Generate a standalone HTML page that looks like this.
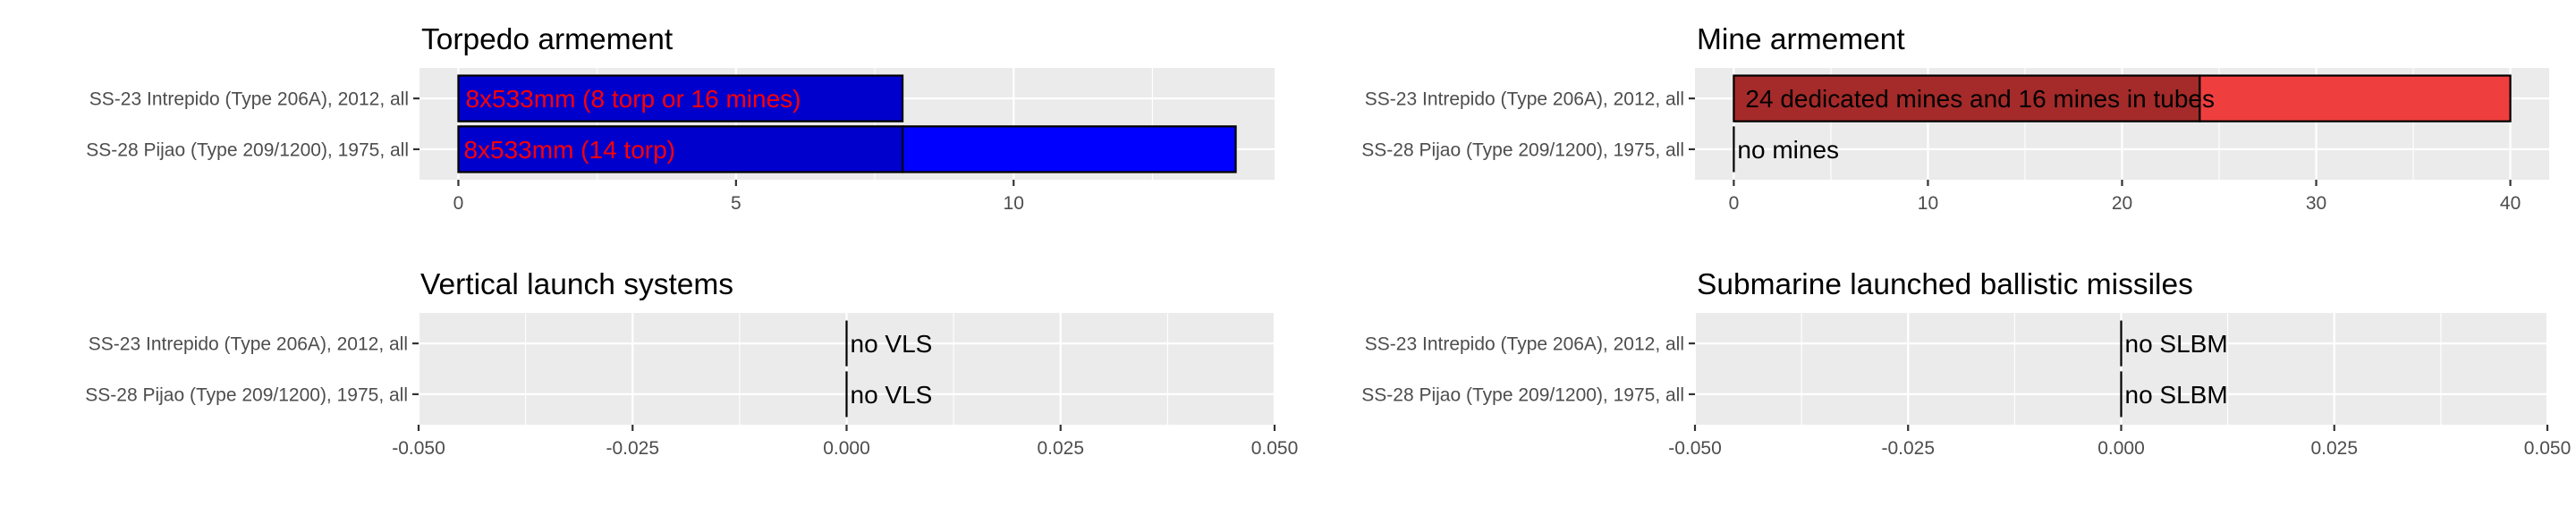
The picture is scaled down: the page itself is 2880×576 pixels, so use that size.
<!DOCTYPE html>
<html><head><meta charset="utf-8">
<style>
html,body{margin:0;padding:0;background:#fff;}
svg{display:block;font-family:"Liberation Sans",Arial,sans-serif;}
</style></head>
<body>
<svg id="chart" width="2880" height="576" viewBox="0 0 2880 576" xmlns="http://www.w3.org/2000/svg"></svg>
<script>
// ---- data ----
const categories = ["SS-23 Intrepido (Type 206A), 2012, all", "SS-28 Pijao (Type 209/1200), 1975, all"];
const torpDedicated = [8, 8];
const torpExtra = [0, 6];
const torpLabels = ["8x533mm (8 torp or 16 mines)", "8x533mm (14 torp)"];
const mineDedicated = [24, 0];
const mineTubes = [16, 0];
const mineLabels = ["24 dedicated mines and 16 mines in tubes", "no mines"];
const vlsValues = [0, 0];
const vlsLabels = ["no VLS", "no VLS"];
const slbmValues = [0, 0];
const slbmLabels = ["no SLBM", "no SLBM"];
const torpTicks = [0, 5, 10];
const mineTicks = [0, 10, 20, 30, 40];
const zeroTicks = [-0.05, -0.025, 0, 0.025, 0.05];
const zeroTickLabels = ["-0.050", "-0.025", "0.000", "0.025", "0.050"];

const NS = "http://www.w3.org/2000/svg";
const svg = document.getElementById("chart");
function mk(tag, attrs, parent) {
  const e = document.createElementNS(NS, tag);
  for (const k in attrs) e.setAttribute(k, attrs[k]);
  (parent || svg).appendChild(e);
  return e;
}

function panel(opt) {
  const g = mk("g", {});
  
  
  const L = opt.left, R = opt.right, T = opt.top, B = opt.bottom;
  const sx = v => L + (v - opt.dmin) / (opt.dmax - opt.dmin) * (R - L);
  const rowH = (B - T) / 2.2;
  const sy = i => T + rowH * (0.6 + i);
  const bg = mk("rect", {x: L, y: T, width: R - L, height: B - T, fill: "#EBEBEB"}, g);
  
  
  for (let i = 0; i < opt.ticks.length - 1; i++) {
    const m = (opt.ticks[i] + opt.ticks[i + 1]) / 2;
    mk("line", {x1: sx(m), x2: sx(m), y1: T, y2: B, stroke: "#fff", "stroke-width": 1.1}, g);
  }
  if (opt.extraMinor) opt.extraMinor.forEach(m => {
    if (sx(m) > L && sx(m) < R) mk("line", {x1: sx(m), x2: sx(m), y1: T, y2: B, stroke: "#fff", "stroke-width": 1.1}, g);
  });
  opt.ticks.forEach(t => mk("line", {x1: sx(t), x2: sx(t), y1: T, y2: B, stroke: "#fff", "stroke-width": 2.2}, g));
  categories.forEach((c, i) => mk("line", {x1: L, x2: R, y1: sy(i), y2: sy(i), stroke: "#fff", "stroke-width": 2.2}, g));
  const bh = rowH * 0.9;
  categories.forEach((c, i) => {
    let start = 0;
    let total = 0;
    opt.series.forEach(s => { total += s.values[i]; });
    if (total === 0) {
      const z = mk("line", {x1: sx(0), x2: sx(0), y1: sy(i) - bh / 2, y2: sy(i) + bh / 2, stroke: "#000", "stroke-width": 2.2}, g);
      
      
    } else {
      opt.series.forEach(s => {
        const v = s.values[i];
        if (v === 0) return;
        const r = mk("rect", {x: sx(start), y: sy(i) - bh / 2, width: sx(start + v) - sx(start), height: bh,
          fill: s.color, stroke: "#000", "stroke-width": 2.2}, g);
        
        
        start += v;
      });
    }
    const t = mk("text", {x: sx(0) + opt.labelOffset[i], y: sy(i) + 10, "font-size": 28, fill: opt.labelColor}, g);
    t.textContent = opt.labels[i];
    
    
    mk("line", {x1: L - 7, x2: L, y1: sy(i), y2: sy(i), stroke: "#333", "stroke-width": 2.2}, g);
    const yl = mk("text", {x: L - 12, y: sy(i) + 7.5, "font-size": 21, fill: "#4D4D4D", "text-anchor": "end"}, g);
    yl.textContent = c;
    
    
  });
  opt.ticks.forEach((t, i) => {
    mk("line", {x1: sx(t), x2: sx(t), y1: B, y2: B + 7, stroke: "#333", "stroke-width": 2.2}, g);
    const tl = mk("text", {x: sx(t), y: B + 33, "font-size": 21, fill: "#4D4D4D", "text-anchor": "middle"}, g);
    tl.textContent = opt.tickLabels[i];
    
    
  });
  const title = mk("text", {x: L + 2, y: T - 21, "font-size": 33.5, fill: "#000"}, g);
  title.textContent = opt.title;
  
  
}

panel({name: "torpedo-panel", title: "Torpedo armement", left: 469, right: 1425, top: 76, bottom: 201,
  dmin: -0.7, dmax: 14.7, ticks: torpTicks, tickLabels: torpTicks.map(String), extraMinor: [12.5],
  series: [{key: "torp-dedicated", values: torpDedicated, color: "#0000CD"}, {key: "torp-extra", values: torpExtra, color: "#0000FF"}],
  labels: torpLabels, labelColor: "#FF0000", labelOffset: [8, 6]});
panel({name: "mine-panel", title: "Mine armement", left: 1895, right: 2850, top: 76, bottom: 201,
  dmin: -2, dmax: 42, ticks: mineTicks, tickLabels: mineTicks.map(String),
  series: [{key: "mine-dedicated", values: mineDedicated, color: "#A52A2A"}, {key: "mine-tubes", values: mineTubes, color: "#EF3E3E"}],
  labels: mineLabels, labelColor: "#000", labelOffset: [13, 4]});
panel({name: "vls-panel", title: "Vertical launch systems", left: 468, right: 1425, top: 350, bottom: 475,
  dmin: -0.05, dmax: 0.05, ticks: zeroTicks, tickLabels: zeroTickLabels,
  series: [{key: "vls", values: vlsValues, color: "#0000CD"}],
  labels: vlsLabels, labelColor: "#000", labelOffset: [4, 4]});
panel({name: "slbm-panel", title: "Submarine launched ballistic missiles", left: 1895, right: 2848, top: 350, bottom: 475,
  dmin: -0.05, dmax: 0.05, ticks: zeroTicks, tickLabels: zeroTickLabels,
  series: [{key: "slbm", values: slbmValues, color: "#0000CD"}],
  labels: slbmLabels, labelColor: "#000", labelOffset: [4, 4]});
</script>
</body></html>
